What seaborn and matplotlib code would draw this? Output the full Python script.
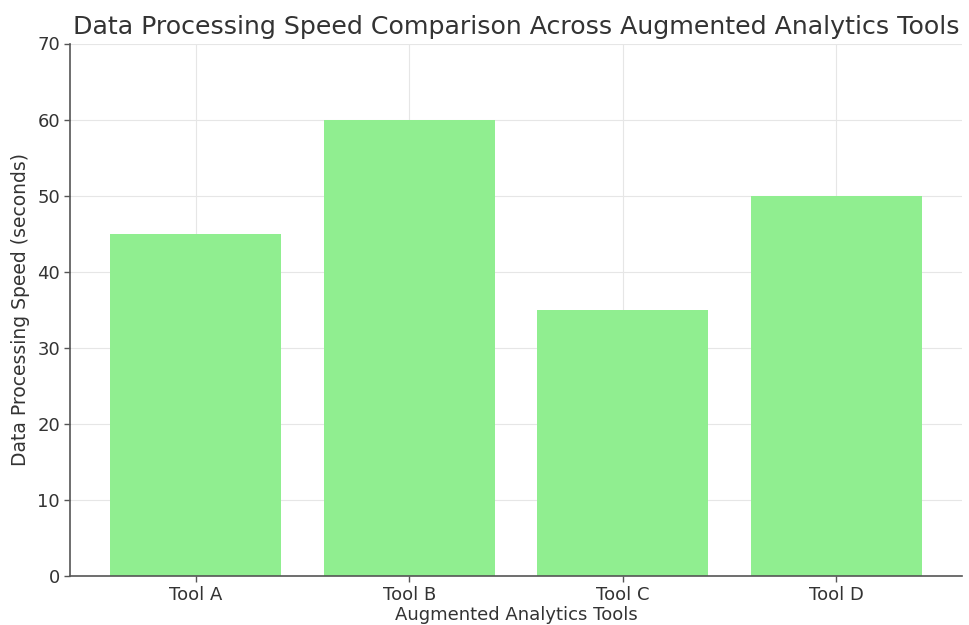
import matplotlib
matplotlib.use("Agg")
import matplotlib.pyplot as plt
import seaborn as sns
import pandas as pd

tools = ["Tool A", "Tool B", "Tool C", "Tool D"]
speed_seconds = [45, 60, 35, 50]

df = pd.DataFrame({"Tool": tools, "Speed": speed_seconds})

sns.set_theme(style="whitegrid")
plt.rcParams["font.family"] = ["DejaVu Sans"]

fig = plt.figure(figsize=(9.7, 6.25), dpi=100)
ax = fig.add_axes([0.072, 0.0784, 0.92, 0.852])

sns.barplot(data=df, x="Tool", y="Speed", color="#90EE90", saturation=1,
            width=0.8, linewidth=0, ax=ax, zorder=2)

ax.set_ylim(0, 70)
ax.set_xlim(-0.59, 3.59)
ax.set_yticks(range(0, 71, 10))

ax.grid(True, color="#e6e6e6", linewidth=0.8, zorder=0)
ax.set_axisbelow(True)

for side in ["top", "right"]:
    ax.spines[side].set_visible(False)
for side in ["left", "bottom"]:
    ax.spines[side].set_color("#555555")
    ax.spines[side].set_linewidth(1.2)

ax.tick_params(axis="both", which="both", direction="out", length=4,
               width=1, color="#555555", labelsize=13, labelcolor="#333333",
               left=True, bottom=True, pad=3)

ax.set_title("Data Processing Speed Comparison Across Augmented Analytics Tools",
             fontsize=18.2, color="#333333", pad=7)
ax.set_xlabel("Augmented Analytics Tools", fontsize=13, color="#333333", labelpad=2)
ax.set_ylabel("Data Processing Speed (seconds)", fontsize=13.5, color="#333333", labelpad=5)

fig.savefig("out.png", dpi=100)
